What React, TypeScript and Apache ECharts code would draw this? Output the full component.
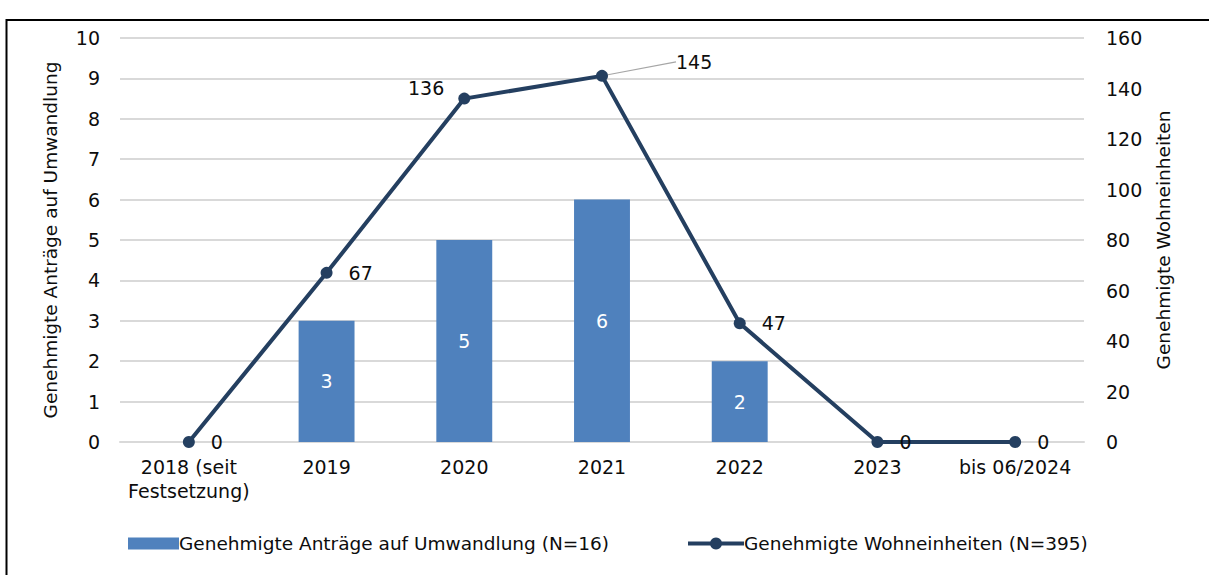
import React, { useEffect, useRef } from "react";
import * as echarts from "echarts";

const categories = ["2018 (seit\nFestsetzung)", "2019", "2020", "2021", "2022", "2023", "bis 06/2024"];
const antraege = [0, 3, 5, 6, 2, 0, 0];
const wohneinheiten = [0, 67, 136, 145, 47, 0, 0];
const leftTicks = { min: 0, max: 10, interval: 1 };
const rightTicks = { min: 0, max: 160, interval: 20 };
const barName = "Genehmigte Anträge auf Umwandlung (N=16)";
const lineName = "Genehmigte Wohneinheiten (N=395)";
const leftAxisName = "Genehmigte Anträge auf Umwandlung";
const rightAxisName = "Genehmigte Wohneinheiten";

const FONT = "'DejaVu Sans', sans-serif";
const FS = 19;
const LFS = 18.5;
const TXT = "#0d0d0d";
const LINE_COLOR = "#243f60";
const BAR_COLOR = "#4f81bd";

export default function App() {
  const ref = useRef<HTMLDivElement>(null);
  useEffect(() => {
    if (!ref.current) return;
    const chart = echarts.init(ref.current, undefined, { renderer: "svg" });
    const lineData = wohneinheiten.map((v, i) => {
      if (i === 2) {
        return { value: v, label: { position: "left", distance: 14 } };
      }
      if (i === 3) {
        return { value: v, labelLine: { show: true, lineStyle: { color: "#a6a6a6", width: 1.2 } } };
      }
      return { value: v };
    });
    chart.setOption({
      animation: false,
      textStyle: { fontFamily: FONT },
      graphic: [
        {
          type: "rect",
          shape: { x: 6.5, y: 20, width: 1400, height: 800 },
          style: { fill: "none", stroke: "#000", lineWidth: 2 },
          silent: true,
        },
      ],
      grid: { left: 120, right: 125, top: 38, bottom: 133 },
      legend: [
        {
          top: 529,
          left: 123,
          itemWidth: 51,
          itemHeight: 12,
          textStyle: { fontFamily: FONT, fontSize: LFS, color: TXT, padding: [0, 0, 0, -5] },
          data: [{ name: barName, icon: "rect" }],
        },
        {
          top: 529,
          left: 681,
          itemWidth: 56,
          itemHeight: 15,
          textStyle: { fontFamily: FONT, fontSize: LFS, color: TXT, padding: [0, 0, 0, -5] },
          data: [
            {
              name: lineName,
              lineStyle: { width: 4, color: LINE_COLOR },
              itemStyle: { color: LINE_COLOR },
            },
          ],
        },
      ],
      xAxis: {
        type: "category",
        data: categories,
        axisLine: { lineStyle: { color: "#d9d9d9", width: 2 } },
        axisTick: { show: false },
        axisLabel: { fontFamily: FONT, fontSize: FS, color: TXT, margin: 13, lineHeight: 24, interval: 0 },
      },
      yAxis: [
        {
          type: "value",
          ...leftTicks,
          name: leftAxisName,
          nameLocation: "middle",
          nameRotate: 90,
          nameGap: 60,
          nameTextStyle: { fontFamily: FONT, fontSize: LFS, color: TXT },
          axisLabel: { fontFamily: FONT, fontSize: FS, color: TXT, margin: 20 },
          splitLine: { lineStyle: { color: "#d9d9d9", width: 2 } },
          axisLine: { show: false },
          axisTick: { show: false },
        },
        {
          type: "value",
          ...rightTicks,
          name: rightAxisName,
          nameLocation: "middle",
          nameRotate: 90,
          nameGap: 70,
          nameTextStyle: { fontFamily: FONT, fontSize: LFS, color: TXT },
          axisLabel: { fontFamily: FONT, fontSize: FS, color: TXT, margin: 22 },
          splitLine: { show: false },
          axisLine: { show: false },
          axisTick: { show: false },
        },
      ],
      series: [
        {
          name: barName,
          type: "bar",
          data: antraege,
          barWidth: "40.6%",
          itemStyle: { color: BAR_COLOR },
          label: {
            show: true,
            position: "inside",
            color: "#fff",
            fontFamily: FONT,
            fontSize: FS,
            formatter: (p: any) => (p.value ? String(p.value) : ""),
          },
        },
        {
          name: lineName,
          type: "line",
          yAxisIndex: 1,
          data: lineData,
          symbol: "circle",
          symbolSize: 12,
          lineStyle: { color: LINE_COLOR, width: 4 },
          itemStyle: { color: LINE_COLOR },
          label: {
            show: true,
            position: "right",
            distance: 16,
            color: TXT,
            fontFamily: FONT,
            fontSize: FS,
          },
          labelLine: { show: false },
          labelLayout: (params: any) => {
            if (params.dataIndex === 3) return { dx: 52, dy: -14 };
            if (params.dataIndex === 2) return { dy: -11 };
            return {};
          },
        },
      ],
    });
    return () => chart.dispose();
  }, []);
  return (
    <div
      ref={ref}
      style={{ position: "fixed", left: 0, top: 0, width: 1209, height: 575, background: "#fff" }}
    />
  );
}
